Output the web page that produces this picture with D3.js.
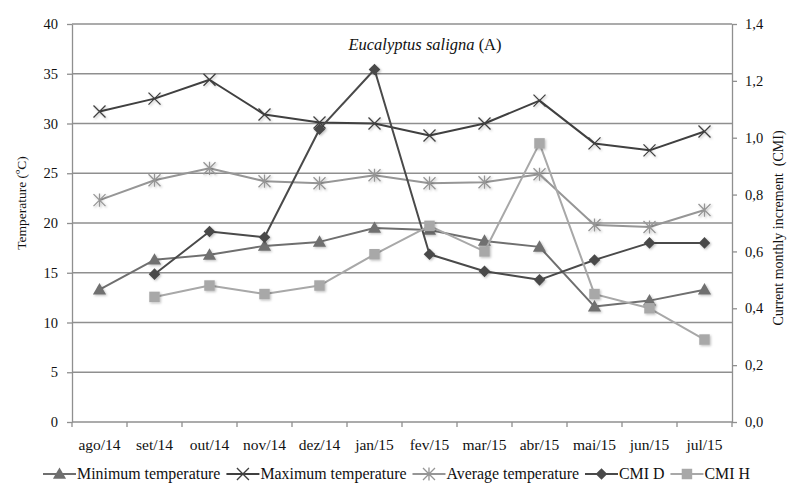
<!DOCTYPE html>
<html>
<head>
<meta charset="utf-8">
<script src="https://cdn.jsdelivr.net/npm/d3@7"></script>
<style>
  html, body { margin: 0; padding: 0; background: #fff; }
  svg { display: block; font-family: "Liberation Serif", "Times New Roman", serif; }
</style>
</head>
<body>
<svg id="chart" width="787" height="491"></svg>
<script>
// Monthly temperatures (left axis, ºC) and current monthly increment (right axis)
const months = ["ago/14", "set/14", "out/14", "nov/14", "dez/14", "jan/15",
                "fev/15", "mar/15", "abr/15", "mai/15", "jun/15", "jul/15"];
const minTemp = [13.3, 16.3, 16.8, 17.7, 18.1, 19.5, 19.3, 18.2, 17.6, 11.6, 12.2, 13.3];
const maxTemp = [31.2, 32.5, 34.4, 30.9, 30.1, 30.0, 28.8, 30.0, 32.3, 28.0, 27.3, 29.2];
const avgTemp = [22.3, 24.3, 25.5, 24.2, 24.0, 24.8, 24.0, 24.1, 24.9, 19.8, 19.6, 21.3];
const cmiD = [null, 0.52, 0.67, 0.65, 1.03, 1.24, 0.59, 0.53, 0.50, 0.57, 0.63, 0.63];
const cmiH = [null, 0.44, 0.48, 0.45, 0.48, 0.59, 0.69, 0.60, 0.98, 0.45, 0.40, 0.29];
const tempTicks = [0, 5, 10, 15, 20, 25, 30, 35, 40];
const cmiTicks = [0, 0.2, 0.4, 0.6, 0.8, 1.0, 1.2, 1.4];

const svg = d3.select("#chart");
const plot = { left: 72, right: 732, top: 24, bottom: 422 };

const x = d3.scaleBand().domain(months).range([plot.left, plot.right]);
const yT = d3.scaleLinear().domain([0, 40]).range([plot.bottom, plot.top]);
const yC = d3.scaleLinear().domain([0, 1.4]).range([plot.bottom, plot.top]);
const cx = m => x(m) + x.bandwidth() / 2;

const gridColor = "#8f8f8f";
const textColor = "#111";

// soft shadow under the markers
const defs = svg.append("defs");
const f = defs.append("filter").attr("id", "shadow")
  .attr("x", "-50%").attr("y", "-50%").attr("width", "200%").attr("height", "200%");
f.append("feDropShadow").attr("dx", 1.2).attr("dy", 1.2).attr("stdDeviation", 1)
  .attr("flood-color", "#000").attr("flood-opacity", 0.25);

// horizontal gridlines from the temperature axis
svg.append("g").selectAll("line").data(tempTicks.filter(t => t > 0)).join("line")
  .attr("x1", plot.left).attr("x2", plot.right)
  .attr("y1", d => yT(d)).attr("y2", d => yT(d))
  .attr("stroke", gridColor).attr("stroke-width", 1.3);

// axes
function styleAxis(g) {
  g.select(".domain").attr("stroke", gridColor).attr("stroke-width", 1.3);
  g.selectAll(".tick line").attr("stroke", gridColor).attr("stroke-width", 1.3);
  g.selectAll(".tick text").attr("fill", textColor);
}

const leftAxis = svg.append("g").attr("transform", `translate(${plot.left},0)`)
  .call(d3.axisLeft(yT).tickValues(tempTicks).tickSize(5).tickPadding(9).tickSizeOuter(0))
  .attr("font-family", null).attr("font-size", 14.5);
styleAxis(leftAxis);

const rightAxis = svg.append("g").attr("transform", `translate(${plot.right},0)`)
  .call(d3.axisRight(yC).tickValues(cmiTicks).tickSize(5).tickPadding(8).tickSizeOuter(0)
    .tickFormat(d => d3.format(".1f")(d).replace(".", ",")))
  .attr("font-family", null).attr("font-size", 14.5);
styleAxis(rightAxis);

// bottom axis: ticks at category boundaries, labels at the centres
const bottom = svg.append("g");
bottom.append("line").attr("x1", plot.left).attr("x2", plot.right)
  .attr("y1", plot.bottom).attr("y2", plot.bottom)
  .attr("stroke", gridColor).attr("stroke-width", 1.3);
const edges = months.map(m => x(m)).concat([x(months[months.length - 1]) + x.bandwidth()]);
bottom.selectAll("line.t").data(edges).join("line").attr("class", "t")
  .attr("x1", d => d).attr("x2", d => d)
  .attr("y1", plot.bottom).attr("y2", plot.bottom + 5)
  .attr("stroke", gridColor).attr("stroke-width", 1.3);
bottom.selectAll("text").data(months).join("text")
  .attr("x", d => cx(d)).attr("y", 450)
  .attr("text-anchor", "middle").attr("font-size", 15.5).attr("fill", textColor)
  .text(d => d);

// axis titles
svg.append("text").attr("transform", "translate(26,203) rotate(-90)")
  .attr("text-anchor", "middle").attr("font-size", 13.5).attr("fill", textColor)
  .text("Temperature (ºC)");
svg.append("text").attr("transform", "translate(783,228) rotate(-90)")
  .attr("text-anchor", "middle").attr("font-size", 14).attr("fill", textColor)
  .attr("xml:space", "preserve")
  .text("Current monthly increment  (CMI)");

// chart title
const title = svg.append("text").attr("x", 425).attr("y", 50)
  .attr("text-anchor", "middle").attr("font-size", 16.5).attr("fill", textColor);
title.append("tspan").attr("font-style", "italic").text("Eucalyptus saligna");
title.append("tspan").text(" (A)");

// marker shapes
const sym = {
  triangle: d3.symbol().type(d3.symbolTriangle).size(75),
  square: d3.symbol().type(d3.symbolSquare).size(110)
};
function drawMarker(g, kind, px, py, color) {
  if (kind === "x") {
    const r = 6;
    g.append("path").attr("d", `M${px - r},${py - r}L${px + r},${py + r}M${px - r},${py + r}L${px + r},${py - r}`)
      .attr("stroke", color).attr("stroke-width", 1.3).attr("fill", "none");
  } else if (kind === "star") {
    const r = 6;
    g.append("path").attr("d", `M${px - r},${py - r}L${px + r},${py + r}M${px - r},${py + r}L${px + r},${py - r}M${px},${py - r * 1.1}L${px},${py + r * 1.1}`)
      .attr("stroke", color).attr("stroke-width", 1.3).attr("fill", "none");
  } else if (kind === "diamond") {
    const r = 5.8;
    g.append("path").attr("d", `M${px},${py - r}L${px + r},${py}L${px},${py + r}L${px - r},${py}Z`)
      .attr("fill", color);
  } else {
    g.append("path").attr("d", sym[kind]())
      .attr("transform", `translate(${px},${py + (kind === "triangle" ? 1 : 0)})`)
      .attr("fill", color);
  }
}

const series = [
  { name: "Minimum temperature", values: minTemp, scale: yT, color: "#6f6f6f", marker: "triangle", width: 2 },
  { name: "Maximum temperature", values: maxTemp, scale: yT, color: "#404040", marker: "x", width: 2 },
  { name: "Average temperature", values: avgTemp, scale: yT, color: "#969696", marker: "star", width: 2 },
  { name: "CMI D", values: cmiD, scale: yC, color: "#4a4a4a", marker: "diamond", width: 2 },
  { name: "CMI H", values: cmiH, scale: yC, color: "#a8a8a8", marker: "square", width: 2 }
];

series.forEach(s => {
  const pts = months.map((m, i) => ({ m, v: s.values[i] })).filter(p => p.v != null);
  const line = d3.line().x(p => cx(p.m)).y(p => s.scale(p.v));
  const g = svg.append("g");
  g.append("path").attr("d", line(pts)).attr("fill", "none")
    .attr("stroke", s.color).attr("stroke-width", s.width).attr("stroke-linejoin", "round");
  const mg = g.append("g").attr("filter", "url(#shadow)");
  pts.forEach(p => drawMarker(mg, s.marker, cx(p.m), s.scale(p.v), s.color));
});

// legend
const legend = svg.append("g").attr("font-size", 15.9);
let lx = 43;
const ly = 474;
series.forEach(s => {
  const g = legend.append("g");
  g.append("line").attr("x1", lx).attr("x2", lx + 33).attr("y1", ly).attr("y2", ly)
    .attr("stroke", s.color).attr("stroke-width", 2);
  drawMarker(g, s.marker, lx + 16.5, ly, s.color);
  const t = g.append("text").attr("x", lx + 34).attr("y", ly + 5).attr("fill", textColor).text(s.name);
  lx += 34 + t.node().getComputedTextLength() + 6;
});
</script>
</body>
</html>
